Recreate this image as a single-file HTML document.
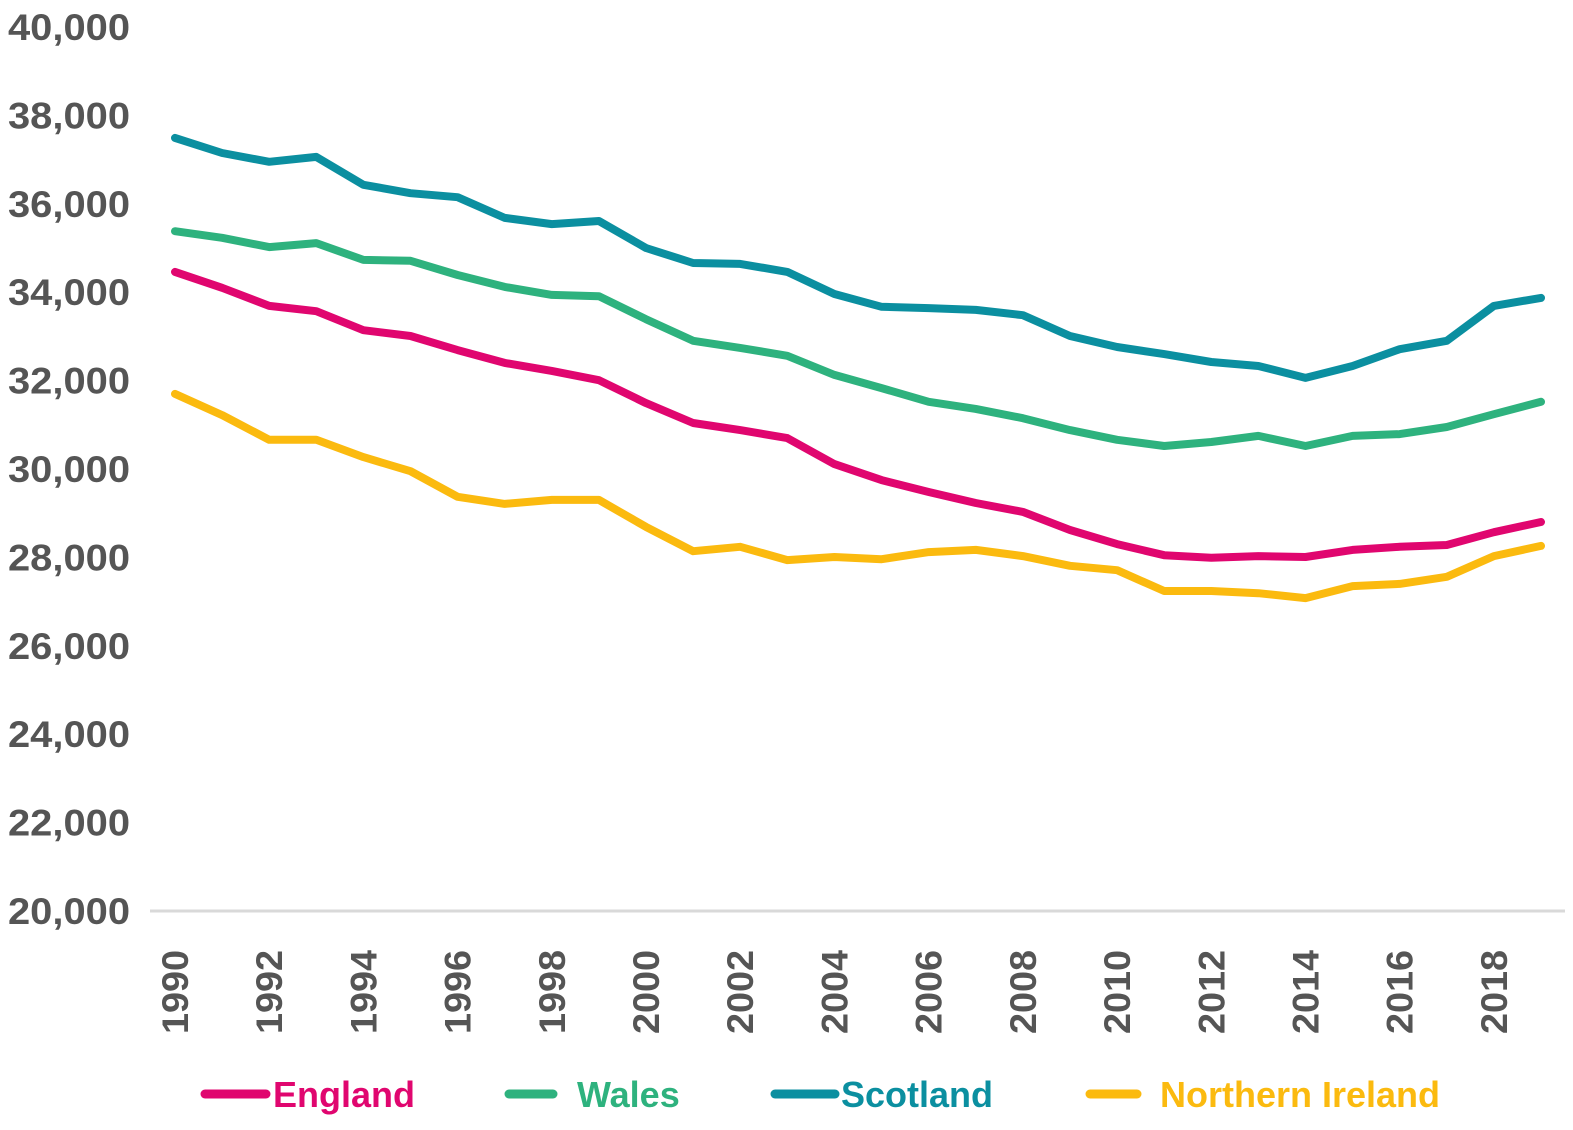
<!DOCTYPE html>
<html><head><meta charset="utf-8"><style>
html,body{margin:0;padding:0;background:#fff;}
svg{display:block;font-family:"Liberation Sans",sans-serif;font-weight:bold;}
</style></head><body>
<svg id="chart" width="1573" height="1130" viewBox="0 0 1573 1130"></svg>
<script>
const years = [];
for (let y = 1990; y <= 2019; y++) years.push(y);
const yTicks = [20000,22000,24000,26000,28000,30000,32000,34000,36000,38000,40000];
const england = [34460,34100,33690,33570,33140,33010,32690,32400,32220,32010,31490,31040,30880,30700,30110,29750,29480,29230,29030,28620,28300,28050,27990,28030,28010,28170,28240,28280,28570,28800];
const wales = [35380,35230,35020,35110,34730,34710,34390,34120,33940,33910,33390,32900,32740,32560,32130,31830,31520,31360,31150,30880,30660,30520,30610,30750,30520,30750,30790,30950,31240,31520];
const scotland = [37490,37150,36950,37060,36430,36240,36150,35680,35540,35610,35000,34660,34640,34460,33960,33670,33640,33600,33480,33010,32760,32600,32420,32330,32060,32330,32710,32900,33690,33870];
const northernIreland = [31700,31220,30660,30660,30270,29950,29370,29210,29300,29300,28690,28140,28240,27940,28010,27960,28120,28170,28030,27810,27710,27240,27240,27190,27080,27350,27400,27560,28030,28260];
const seriesNames = ["England","Wales","Scotland","Northern Ireland"];
const seriesColors = ["#e0066f","#2eb27e","#0b8fa0","#fbba0f"];
const seriesData = [england, wales, scotland, northernIreland];

const NS = "http://www.w3.org/2000/svg";
const svg = document.getElementById("chart");
const xs = i => 175 + (1541 - 175) * (years[i] - years[0]) / (years[years.length-1] - years[0]);
const ys = v => 911 - (v - 20000) * (911 - 27) / 20000;
function mk(tag, attrs, parent) {
  const e = document.createElementNS(NS, tag);
  for (const k in attrs) e.setAttribute(k, attrs[k]);
  (parent || svg).appendChild(e);
  return e;
}
yTicks.forEach(t => {
  const e = mk("text", {x: 130, y: ys(t) + 13, "text-anchor": "end", "font-size": 37, fill: "#555", textLength: 122, lengthAdjust: "spacingAndGlyphs"});
  
  
  e.textContent = t.toLocaleString("en-US");
});
const ax = mk("line", {x1: 150, x2: 1565, y1: 911, y2: 911, stroke: "#d9d9d9", "stroke-width": 3});


years.forEach((yr, i) => {
  if (yr % 2) return;
  const x = xs(i) + 13, y = 950;
  const e = mk("text", {x: x, y: y, "text-anchor": "end", "font-size": 37, fill: "#555", textLength: 84, lengthAdjust: "spacingAndGlyphs", transform: `rotate(-90 ${x} ${y})`});
  
  
  e.textContent = yr;
});
seriesData.forEach((d, s) => {
  const pts = d.map((v, i) => xs(i).toFixed(1) + "," + ys(v).toFixed(1)).join(" ");
  const p = mk("polyline", {points: pts, fill: "none", stroke: seriesColors[s], "stroke-width": 8, "stroke-linejoin": "round", "stroke-linecap": "round"});
  
  
});
const legX = [[205,266,273],[509,553,577],[775,835,841],[1090,1137,1160]];
seriesNames.forEach((n, s) => {
  const g = mk("g", {});
  
  
  mk("line", {x1: legX[s][0], x2: legX[s][1], y1: 1094, y2: 1094, stroke: seriesColors[s], "stroke-width": 9, "stroke-linecap": "round"}, g);
  const t = mk("text", {x: legX[s][2], y: 1107, "font-size": 36, fill: seriesColors[s]}, g);
  t.textContent = n;
});
</script>
</body></html>
